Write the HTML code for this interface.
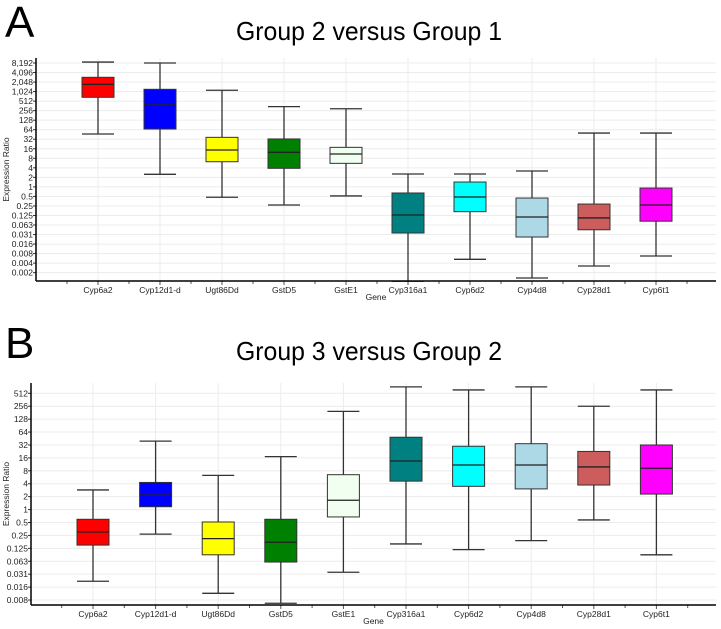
<!DOCTYPE html>
<html><head><meta charset="utf-8"><style>
body{margin:0;background:#fff;}
svg{display:block;font-family:"Liberation Sans",Arial,sans-serif;}
</style></head><body>
<svg id="chart" width="721" height="629" viewBox="0 0 721 629" xmlns="http://www.w3.org/2000/svg">
<text x="5" y="37" font-size="44">A</text>
<text x="369" y="40" font-size="26" text-anchor="middle" textLength="266" lengthAdjust="spacingAndGlyphs">Group 2 versus Group 1</text>
<text x="5" y="358" font-size="44">B</text>
<text x="369" y="360" font-size="26" text-anchor="middle" textLength="266" lengthAdjust="spacingAndGlyphs">Group 3 versus Group 2</text>
<g id="pa"></g>
<g id="pb"></g>
</svg>
<script>
const genes = ["Cyp6a2","Cyp12d1-d","Ugt86Dd","GstD5","GstE1","Cyp316a1","Cyp6d2","Cyp4d8","Cyp28d1","Cyp6t1"];
const colors = ["#ff0000","#0000ff","#ffff00","#008000","#f0fff0","#008080","#00ffff","#add8e6","#cd5c5c","#ff00ff"];
// Panel A values (log2 expression ratio)
const aMax = [13.1,13.0,10.14,8.42,8.2,1.35,1.35,1.67,5.65,5.65];
const aQ3 = [11.5,10.24,5.2,5.03,4.15,-0.64,0.51,-1.17,-1.8,-0.12];
const aMed = [10.76,8.6,3.87,3.63,3.45,-2.95,-1.06,-3.16,-3.26,-1.9];
const aQ1 = [9.4,6.07,2.64,1.95,2.47,-4.84,-2.6,-5.26,-4.5,-3.6];
const aMin = [5.55,1.32,-1.09,-1.9,-0.95,-9.9,-7.6,-9.56,-8.3,-7.25];
const aTicks = ["8,192","4,096","2,048","1,024","512","256","128","64","32","16","8","4","2","1","0.5","0.25","0.125","0.063","0.031","0.016","0.008","0.004","0.002"];
// Panel B values (log2)
const bMax = [1.52,5.3,2.65,4.1,7.6,9.5,9.26,9.5,8.0,9.26];
const bQ3 = [-0.75,2.1,-0.96,-0.75,2.7,5.6,4.9,5.1,4.5,5.0];
const bMed = [-1.73,1.13,-2.25,-2.53,0.72,3.76,3.45,3.45,3.3,3.2];
const bQ1 = [-2.75,0.22,-3.5,-4.06,-0.57,2.2,1.8,1.6,1.9,1.2];
const bMin = [-5.55,-1.9,-6.48,-7.25,-4.85,-2.66,-3.1,-2.4,-0.8,-3.5];
const bTicks = ["512","256","128","64","32","16","8","4","2","1","0.5","0.25","0.125","0.063","0.031","0.016","0.008"];

const NS="http://www.w3.org/2000/svg";
function mk(p,t,a){const e=document.createElementNS(NS,t);for(const k in a)e.setAttribute(k,a[k]);p.appendChild(e);return e;}

function panel(g,cfg,mx,q3,md,q1,mn,ticks){
  const y=v=>cfg.y0+(cfg.topL-v)*cfg.pxu;
  const x=i=>cfg.x0c+i*cfg.step;
  ticks.forEach((t,k)=>{
    const l=cfg.topL-k; const yy=y(l);
    const gl=mk(g,'line',{x1:cfg.ax,x2:716,y1:yy,y2:yy,stroke:'#ececec','stroke-width':1});
    
    
    const tk=mk(g,'line',{x1:cfg.ax-3,x2:cfg.ax,y1:yy,y2:yy,stroke:'#333'});
    
    
    const tl=mk(g,'text',{x:cfg.ax-3,y:yy+3,'font-size':8.5,'text-anchor':'end',fill:'#222'});
    tl.textContent=t;
    
    
  });
  for(let i=0;i<genes.length;i++){
    const vl=mk(g,'line',{x1:x(i),x2:x(i),y1:cfg.yTop,y2:cfg.axY,stroke:'#ececec'});
    
    
  }
  for(let k=-2;k<22;k++){
    const xx=x(0)+k*cfg.step/2;
    if(xx<=cfg.ax||xx>715)continue;
    const mt=mk(g,'line',{x1:xx,x2:xx,y1:cfg.axY,y2:cfg.axY+(k%2==0?4:3),stroke:'#555'});
    
    
  }
  for(let i=0;i<genes.length;i++){
    const cx=x(i),hw=16;
    const w=mk(g,'line',{x1:cx,x2:cx,y1:y(mx[i]),y2:y(mn[i]),stroke:'#333','stroke-width':1.3});
    
    
    [mx[i],mn[i]].forEach(v=>{
      const c=mk(g,'line',{x1:cx-hw,x2:cx+hw,y1:y(v),y2:y(v),stroke:'#333','stroke-width':1.3});
      
      
    });
    const b=mk(g,'rect',{x:cx-hw,y:y(q3[i]),width:hw*2,height:y(q1[i])-y(q3[i]),fill:colors[i],stroke:'#333','stroke-width':1});
    
    
    const m=mk(g,'line',{x1:cx-hw,x2:cx+hw,y1:y(md[i]),y2:y(md[i]),stroke:'#222','stroke-width':1.3});
    
    
    const lb=mk(g,'text',{x:cx,y:cfg.axY+12,'font-size':8.5,'text-anchor':'middle',fill:'#222'});
    lb.textContent=genes[i];
    
    
  }
  const ya=mk(g,'line',{x1:cfg.ax,x2:cfg.ax,y1:cfg.yTop,y2:cfg.axY,stroke:'#000','stroke-width':1.5});
  
  
  const xa=mk(g,'line',{x1:cfg.ax,x2:716,y1:cfg.axY,y2:cfg.axY,stroke:'#000','stroke-width':1.5});
  
  
  const xt=mk(g,'text',{x:(cfg.ax+716)/2,y:cfg.axY+19,'font-size':8.5,'text-anchor':'middle',fill:'#222'});
  xt.textContent='Gene';
  
  
  const ytc=(cfg.yTop+cfg.axY)/2;
  const yt=mk(g,'text',{x:0,y:0,'font-size':8.5,'text-anchor':'middle',fill:'#222',transform:`translate(9,${ytc}) rotate(-90)`});
  yt.textContent='Expression Ratio';
  
  
}
panel(document.getElementById('pa'),{y0:63,topL:13,pxu:9.53,x0c:98,step:62,ax:36,axY:281,yTop:58},aMax,aQ3,aMed,aQ1,aMin,aTicks);
panel(document.getElementById('pb'),{y0:393.3,topL:9,pxu:12.92,x0c:93,step:62.6,ax:31,axY:605,yTop:383},bMax,bQ3,bMed,bQ1,bMin,bTicks);
</script>
</body></html>
